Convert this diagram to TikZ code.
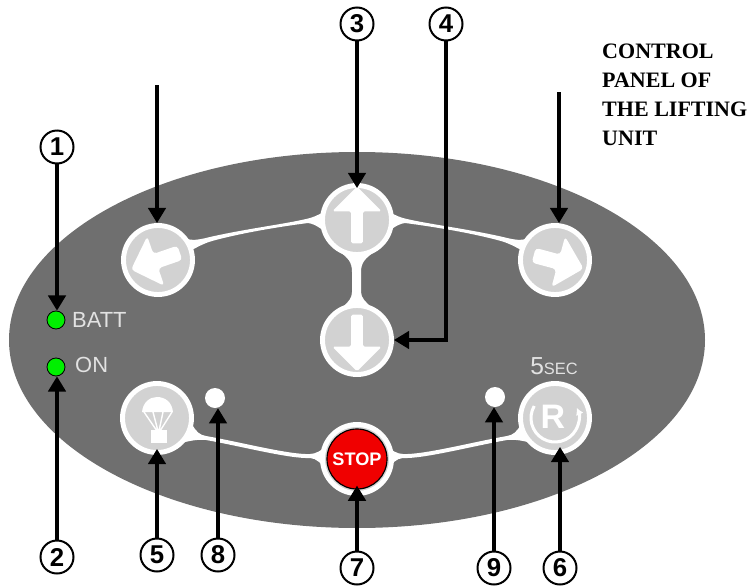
\documentclass[tikz,border=0pt]{standalone}
\usepackage{fontspec}
\setmainfont{Liberation Serif}
\setsansfont{Liberation Sans}
\usepackage{xcolor}
\usetikzlibrary{arrows.meta, shapes.arrows}
\definecolor{panelgray}{HTML}{6F6F6F}
\definecolor{btngray}{HTML}{D2D2D2}
\definecolor{printgray}{HTML}{E2E2E2}
\definecolor{ledgreen}{HTML}{00F000}
\definecolor{stopred}{HTML}{F00000}
\tikzset{
  numcircle/.style={circle, draw=black, line width=1.7pt, fill=white, minimum size=0.99cm, inner sep=0pt, font=\sffamily\bfseries\fontsize{22}{22}\selectfont},
  panelbtn/.style={circle, draw=white, line width=4.2pt, fill=btngray, minimum size=2.07cm, inner sep=0pt},
  led/.style={circle, draw=black, line width=0.7pt, fill=ledgreen, minimum size=0.54cm, inner sep=0pt},
  lamp/.style={circle, fill=white, minimum size=0.6cm, inner sep=0pt},
  glyph/.style={single arrow, fill=white, inner sep=0.17cm, minimum height=1.7cm, single arrow head extend=0.56cm, single arrow head indent=0cm, rounded corners=1.5pt},
  sideglyph/.style={glyph, inner sep=0.22cm, minimum height=1.55cm, single arrow head extend=0.56cm, rounded corners=3pt},
  paneltext/.style={text=printgray, font=\sffamily\fontsize{18.7}{20}\selectfont, inner sep=0pt},
  callout/.style={draw=black, line width=2.7pt, -{Triangle[length=13pt, width=15pt]}}
}
\newcommand{\upperband}{(184,238) .. controls (192,241) and (198,240) .. (210,237) .. controls (245,229) and (285,224) .. (306,219) .. controls (312,218) and (318,215) .. (324,212) -- (332,236) .. controls (322,230) and (316,224) .. (308,223) .. controls (285,226) and (245,232) .. (212,241) .. controls (205,243) and (199,246) .. (192,250) -- cycle}
\newcommand{\lowerband}{(192,424) .. controls (196,432) and (200,435) .. (206,436) .. controls (240,442) and (290,455) .. (310,454) .. controls (316,454) and (322,450) .. (326,446) -- (326,470) .. controls (322,464) and (316,458) .. (310,458) .. controls (290,459) and (240,446) .. (206,440) .. controls (198,439) and (188,441) .. (178,444) -- cycle}

\begin{document}
\begin{tikzpicture}[x=0.03cm, y=-0.03cm]
\useasboundingbox (0,0) rectangle (755,587);
\fill[panelgray] (357,340) ellipse (348 and 188);

% white bands between the buttons
\fill[white] \upperband;
\fill[white] \lowerband;
\begin{scope}[shift={(713,0)}, xscale=-1]
\fill[white] \upperband;
\fill[white] \lowerband;
\end{scope}
\fill[white] (340,252) .. controls (348,258) and (352,262) .. (352,272) -- (352,292) .. controls (352,298) and (348,302) .. (344,306) -- (370,306) .. controls (366,302) and (361,298) .. (361,292) -- (361,272) .. controls (361,262) and (366,258) .. (374,252) -- cycle;

\node[panelbtn] (btnleft) at (158,260) {};
\node[panelbtn] (btnup) at (357,220) {};
\node[panelbtn] (btnright) at (555,260) {};
\node[panelbtn] (btndown) at (357,340) {};
\node[panelbtn] (btnpara) at (157,418) {};
\node[panelbtn] (btnr) at (555,418) {};
\node[panelbtn] (stopring) at (357,459) {};
\node[circle, draw=black, line width=1pt, fill=stopred, minimum size=1.8cm, inner sep=0pt, text=white, font=\sffamily\bfseries\fontsize{15.5}{16}\selectfont] (btnstop) at (357,459) {STOP};

% arrows printed on the buttons
\node[sideglyph, rotate=199] (arrowleft) at (159,260) {};
\node[glyph, rotate=90] (arrowup) at (357,218) {};
\node[sideglyph, rotate=-15] (arrowright) at (555,261) {};
\node[glyph, rotate=-90] (arrowdown) at (357,340) {};

% parachute
\fill[white] (142,412) .. controls (143,402) and (150,397) .. (157,397) .. controls (165,397) and (172,402) .. (173,412) -- cycle;
\draw[white, line width=1.2pt] (144,412) -- (157,431) (153,412) -- (158,431) (163,412) -- (159,431) (172,412) -- (160,431);
\node[fill=white, minimum width=0.5cm, minimum height=0.39cm, inner sep=0pt] (parabox) at (159,436) {};

% reset sign
\node[text=white, font=\sffamily\bfseries\fontsize{29}{29}\selectfont, inner sep=0pt] (rlabel) at (553,417) {R};
\draw[white, line width=2.6pt, -{Latex[length=6pt, width=7pt]}] ([shift={(-150:24)}]btnr.center) arc[start angle=-150, end angle=-385, radius=24];
\node[paneltext, font=\sffamily\fontsize{21}{21}\selectfont] (sec) at (554,366) {5{\fontsize{14}{14}\selectfont SEC}};

\node[led] (ledbatt) at (56,320) {};
\node[led] (ledon) at (56,367) {};
\node[paneltext, anchor=west] (batt) at (72,320) {BATT};
\node[paneltext, anchor=west] (on) at (75,365) {ON};
\node[lamp] (lamp8) at (215,398) {};
\node[lamp] (lamp9) at (495,397) {};

\node[numcircle] (n1) at (57,147) {1};
\node[numcircle] (n2) at (57,557) {2};
\node[numcircle] (n3) at (357,24) {3};
\node[numcircle] (n4) at (446,24) {4};
\node[numcircle] (n5) at (157,555) {5};
\node[numcircle] (n8) at (218,555) {8};
\node[numcircle] (n7) at (357,568) {7};
\node[numcircle] (n9) at (494,568) {9};
\node[numcircle] (n6) at (560,568) {6};

\coordinate (startleft) at (157,85);
\coordinate (startright) at (559,92);

\draw[callout] (n1) -- (n1 |- ledbatt.north);
\draw[callout] (n2) -- (n2 |- ledon.south);
\draw[callout, shorten >=-0.15cm] (n3) -- (btnup);
\draw[callout] (n4) |- (btndown);
\draw[callout, shorten >=-0.18cm] (n5) -- (n5 |- btnpara.south);
\draw[callout, shorten >=-0.24cm] (n6) -- (n6 |- btnr.south);
\draw[callout, shorten >=-0.12cm] (n7) -- (btnstop);
\draw[callout] (n8) -- (n8 |- lamp8.south);
\draw[callout] (n9) -- (n9 |- lamp9.south);
\draw[callout] (startleft) -- (startleft |- btnleft.north);
\draw[callout] (startright) -- (startright |- btnright.north);

\node[anchor=north west, align=left, inner sep=0pt, font=\rmfamily\bfseries\fontsize{18.8}{24.6}\selectfont] (title) at (602,44) {CONTROL\\PANEL OF\\THE LIFTING\\UNIT};
\end{tikzpicture}
\end{document}
